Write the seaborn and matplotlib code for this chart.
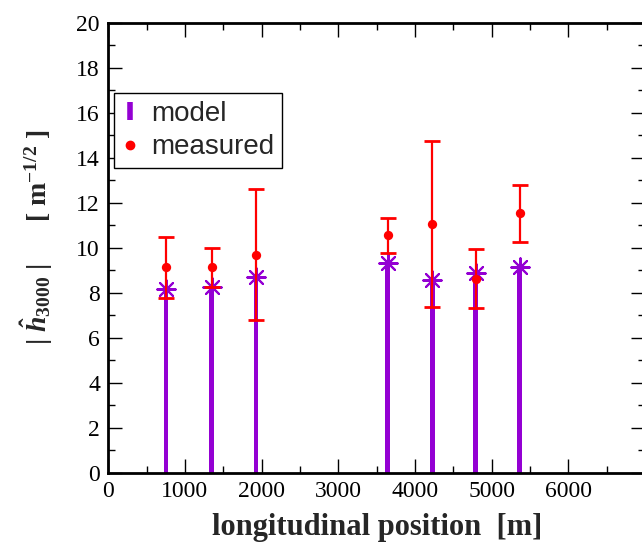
import numpy as np
import matplotlib
matplotlib.use("Agg")
import matplotlib.pyplot as plt
import seaborn as sns
from matplotlib.lines import Line2D
from matplotlib.ticker import MultipleLocator

# data
positions = [752, 1348, 1926, 3643, 4224, 4794, 5368]
model = [8.16, 8.24, 8.71, 9.31, 8.56, 8.86, 9.16]
measured = [9.13, 9.13, 9.68, 10.55, 11.05, 8.61, 11.53]
meas_upper = [10.46, 10.00, 12.61, 11.32, 14.76, 9.94, 12.79]
meas_lower = [7.78, 8.24, 6.77, 9.76, 7.36, 7.30, 10.27]
xticks = [0, 1000, 2000, 3000, 4000, 5000, 6000, 7000]
xtick_labels = ["0", "1000", "2000", "3000", "4000", "5000", "6000", ""]

purple = "#9400D3"
red = "#FF0000"

sns.set_style("ticks")
plt.rcParams["font.family"] = ["Liberation Serif", "DejaVu Serif"]
plt.rcParams["mathtext.fontset"] = "custom"
plt.rcParams["mathtext.rm"] = "Liberation Serif:bold"
plt.rcParams["mathtext.bf"] = "Liberation Serif:bold"
plt.rcParams["mathtext.it"] = "Liberation Serif:italic:bold"

fig = plt.figure(figsize=(6.42, 5.48), dpi=100)
ax = fig.add_axes([108.3 / 642, 75.3 / 548, 536.7 / 642, 450 / 548])

ax.bar(positions, model, width=62, color=purple, linewidth=0, zorder=2)
sns.scatterplot(x=positions, y=model, ax=ax, marker=(8, 2, 0), s=175,
                color=purple, edgecolor=purple, linewidth=1.5, zorder=3)

yerr = [np.array(measured) - np.array(meas_lower),
        np.array(meas_upper) - np.array(measured)]
ax.errorbar(positions, measured, yerr=yerr, fmt="none", ecolor=red,
            elinewidth=1.6, capsize=6, capthick=2, zorder=4)
sns.scatterplot(x=positions, y=measured, ax=ax, color=red, s=45,
                edgecolor=red, linewidth=0, zorder=5)

ax.set_xlim(0, 7000)
ax.set_ylim(0, 20)
ax.set_xticks(xticks)
ax.set_xticklabels(xtick_labels)
ax.xaxis.set_minor_locator(MultipleLocator(500))
ax.yaxis.set_major_locator(MultipleLocator(2))
ax.yaxis.set_minor_locator(MultipleLocator(1))
ax.tick_params(which="both", direction="in", top=True, right=True,
               width=1, colors="black", labelsize=17)
ax.tick_params(which="major", length=10, pad=6)
ax.tick_params(which="minor", length=5)
for sp in ax.spines.values():
    sp.set_visible(True)
    sp.set_linewidth(2)
    sp.set_color("black")

ax.set_xlabel("longitudinal position  [m]", fontsize=22, fontweight="bold")
ax.xaxis.set_label_coords(0.5, -0.09)
ax.xaxis.label.set_va("top")
ax.set_ylabel(r"$|\ \hat{h}_{3000}\ |$" + "      " + r"[ m$^{-1/2}$ ]",
              fontsize=20, fontweight="bold")
ax.yaxis.set_label_coords(-0.10, 0.524)

handles = [
    Line2D([], [], linestyle="none", marker="|", markersize=13,
           markeredgewidth=4, color=purple),
    Line2D([], [], linestyle="none", marker="o", markersize=6, color=red),
]
leg = ax.legend(handles, ["model", "measured"], loc="upper left",
                bbox_to_anchor=(0.0106, 0.844), borderaxespad=0,
                prop={"family": "Liberation Sans", "size": 20},
                frameon=True, fancybox=False, edgecolor="black",
                framealpha=1, handlelength=0.6, handletextpad=0.45,
                borderpad=0.28, labelspacing=0.28)
leg.get_frame().set_linewidth(1)

fig.savefig("out.png", dpi=100)
